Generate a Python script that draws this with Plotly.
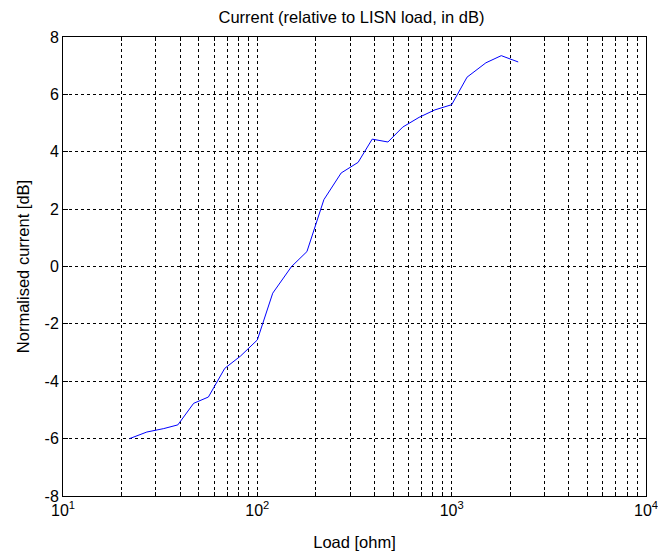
import plotly.graph_objects as go

# Load values (ohm) and normalised current (dB)
load_ohm = [22, 27, 33, 39, 47, 56, 68, 82, 100, 120, 150, 180, 220, 270, 330,
            390, 470, 560, 680, 820, 1000, 1200, 1500, 1800, 2200]
current_db = [-6.0, -5.77, -5.65, -5.52, -4.77, -4.55, -3.55, -3.12, -2.56, -0.93,
              0.0, 0.52, 2.33, 3.26, 3.63, 4.44, 4.34, 4.86, 5.2, 5.46, 5.64,
              6.6, 7.1, 7.35, 7.13]

x_decades = [1, 2, 3, 4]
x_grid = [m * 10 ** k for k in x_decades[:-1] for m in range(1, 10)] + [10 ** x_decades[-1]]
x_text = []
for v in x_grid:
    s = str(v)
    is_major = s[0] == "1" and set(s[1:]) <= {"0"}
    # the last decade label sits at the page edge; drawn as an annotation below
    x_text.append("10<sup>%d</sup>" % (len(s) - 1) if is_major and v != x_grid[-1] else "")
y_ticks = [-8, -6, -4, -2, 0, 2, 4, 6, 8]

font = "Liberation Sans, Arial, sans-serif"

fig = go.Figure()
fig.add_trace(go.Scatter(x=load_ohm, y=current_db, mode="lines",
                         line=dict(color="#0000ff", width=1)))

fig.update_layout(
    width=658, height=554,
    margin=dict(l=63, r=12, t=37, b=58),
    paper_bgcolor="white", plot_bgcolor="white",
    showlegend=False,
    font=dict(family=font, size=16, color="black"),
    title=dict(text="Current (relative to LISN load, in dB)", x=351.5 / 658, xanchor="center",
               y=1 - 17 / 554, yanchor="middle", font=dict(size=16.5, family=font)),
    annotations=[dict(
        x=x_decades[-1], xref="x", y=0, yref="paper",
        text="10<sup>%d</sup>" % x_decades[-1], showarrow=False,
        xanchor="center", yanchor="top", yshift=-1,
        font=dict(size=16, family=font, color="black"),
    )],
)
fig.update_xaxes(
    type="log", range=[1, 4], automargin=False,
    tickmode="array", tickvals=x_grid, ticktext=x_text,
    showgrid=True, gridcolor="black", gridwidth=1, griddash="3px,3px",
    showline=True, linecolor="black", linewidth=1, mirror="ticks",
    ticks="inside", ticklen=4, tickcolor="black",
    zeroline=False,
    title=dict(text="Load [ohm]", font=dict(size=16.5), standoff=18),
    tickfont=dict(size=16),
)
fig.update_yaxes(
    range=[-8, 8], automargin=False, tickmode="array", tickvals=y_ticks,
    ticktext=[str(v) for v in y_ticks],
    showgrid=True, gridcolor="black", gridwidth=1, griddash="3px,3px",
    showline=True, linecolor="black", linewidth=1, mirror="ticks",
    ticks="inside", ticklen=5, tickcolor="black",
    zeroline=False,
    title=dict(text="Normalised current [dB]", font=dict(size=16.5), standoff=10),
    tickfont=dict(size=16),
)

fig.write_html("out.html")
